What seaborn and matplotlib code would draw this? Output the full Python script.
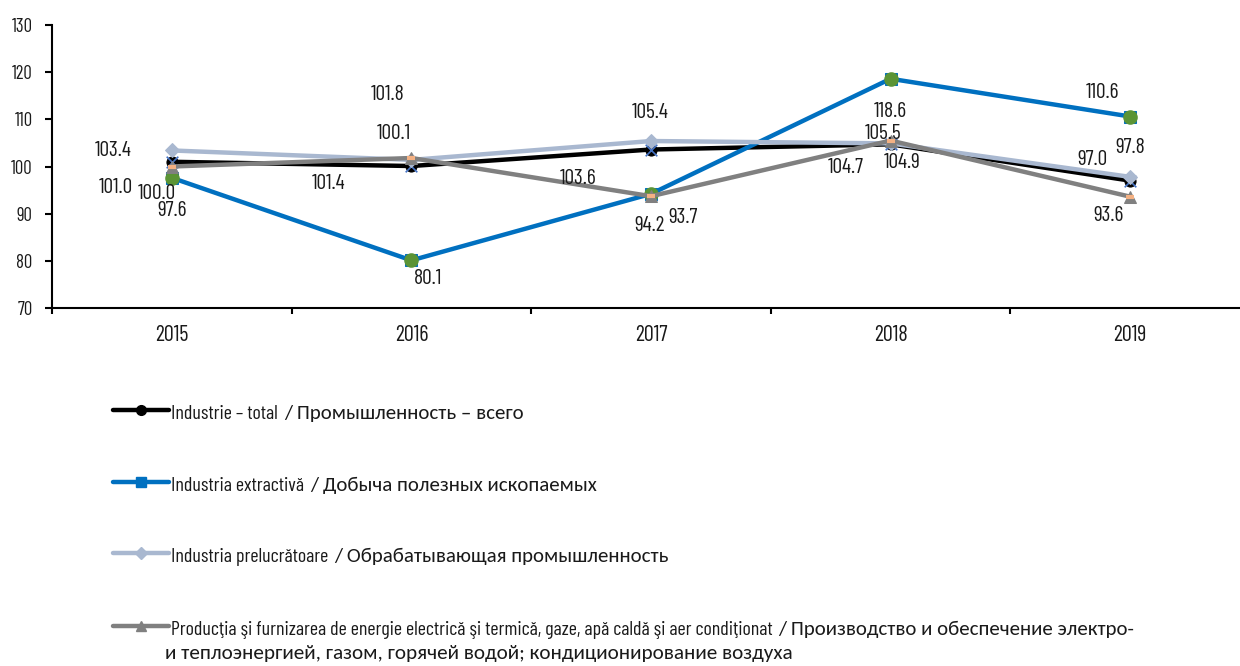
import numpy as np
import pandas as pd
import matplotlib
matplotlib.use("Agg")
import matplotlib.pyplot as plt
import seaborn as sns
from matplotlib import font_manager
from matplotlib.lines import Line2D
from matplotlib.transforms import IdentityTransform
from matplotlib.ticker import FixedLocator

# ---------------- data ----------------
years = ["2015", "2016", "2017", "2018", "2019"]
total = [101.0, 100.1, 103.6, 104.7, 97.0]
extractive = [97.6, 80.1, 94.2, 118.6, 110.6]
manufacturing = [103.4, 101.4, 105.4, 104.9, 97.8]
energy = [100.0, 101.8, 93.7, 105.5, 93.6]
y_ticks = [70, 80, 90, 100, 110, 120, 130]

names_ro = [
    "Industrie \u2013 total",
    "Industria extractivă",
    "Industria prelucrătoare",
    "Producţia şi furnizarea de energie electrică şi termică, gaze, apă caldă şi aer condiţionat",
]
names_ru = [
    "/ Промышленность \u2013 всего",
    "/ Добыча полезных ископаемых",
    "/ Обрабатывающая промышленность",
    "/ Производство и обеспечение электро-",
]
name_ru_cont = "и теплоэнергией, газом, горячей водой; кондиционирование воздуха"

# ---------------- styling ----------------
available = {f.name for f in font_manager.fontManager.ttflist}


def pick(cands):
    for c in cands:
        if c in available:
            return c
    return "DejaVu Sans"


NARROW = pick(["Barlow Condensed", "Saira Condensed", "Big Shoulders Text", "DejaVu Sans"])
CYR = pick(["Carlito", "Open Sans", "DejaVu Sans"])

sns.set_theme(style="white")
plt.rcParams["font.family"] = [NARROW, "DejaVu Sans"]

colors = ["#000000", "#0070C0", "#A9B8D0", "#808080"]
markers = ["o", "s", "D", "^"]
msizes = [8, 8, 7, 8]
series = [total, extractive, manufacturing, energy]

# label offsets in pixels (dx, dy) for each series/year
offsets = [
    [(-56, -26), (-18, 33), (-73, -29), (-45, -23), (-38, 21)],
    [(0, -33), (17, -18), (-1, -32), (0, -33), (-28, 24)],
    [(-59, 0), (-83, -24), (-1, 29), (12, -19), (0, 29)],
    [(-15, -27), (-24, 64), (32, -21), (-8, 7), (-22, -19)],
]

W, H = 1240, 666
fig = plt.figure(figsize=(W / 100, H / 100), dpi=100)
ax = fig.add_axes([52 / W, (H - 308) / H, (1250 - 52) / W, 283 / H])

x = np.arange(len(years))
for i, vals in enumerate(series):
    df = pd.DataFrame({"x": x, "v": vals})
    sns.lineplot(data=df, x="x", y="v", ax=ax, color=colors[i], lw=3.2,
                 marker=markers[i], markersize=msizes[i], markeredgecolor=colors[i],
                 zorder=2 + i)
    if i == 0:
        sns.scatterplot(data=df, x="x", y="v", ax=ax, marker="x", s=70,
                        color="#4472C4", linewidth=1.2, zorder=2.5)
    if i == 1:
        sns.scatterplot(data=df, x="x", y="v", ax=ax, marker="o", s=110,
                        color="#5B9435", linewidth=0, zorder=3.5)
    if i == 3:
        sns.scatterplot(data=df, x="x", y="v", ax=ax, marker="_", s=40,
                        color="#F4B183", linewidth=3, zorder=5.5)
    for j, v in enumerate(vals):
        dx, dy = offsets[i][j]
        ax.annotate(f"{v:.1f}", (x[j], v), xytext=(dx, dy), textcoords="offset pixels",
                    ha="center", va="center", fontsize=15.5, color="#1a1a1a",
                    family=[NARROW, "DejaVu Sans"], zorder=10)

ax.set_xlim(-0.5, len(years) - 0.5)
ax.set_ylim(y_ticks[0], y_ticks[-1])
ax.set_yticks(y_ticks)
ax.set_xticks(x)
ax.set_xticklabels(years)
ax.xaxis.set_minor_locator(FixedLocator(np.arange(-0.5, len(years), 1.0)))
ax.set_xlabel("")
ax.set_ylabel("")
for s in ["top", "right"]:
    ax.spines[s].set_visible(False)
for s in ["left", "bottom"]:
    ax.spines[s].set_color("black")
    ax.spines[s].set_linewidth(1.5)
ax.tick_params(axis="x", which="major", length=0, pad=12.5, labelsize=16, colors="#1a1a1a")
ax.tick_params(axis="x", which="minor", length=4, width=1.5, direction="out", color="black", bottom=True)
ax.tick_params(axis="y", which="major", length=5, width=1.5, direction="out", pad=9,
               labelsize=13.5, color="black", labelcolor="#1a1a1a", left=True)
ax.grid(False)

# ---------------- legend (manual, two fonts per entry) ----------------
fig.canvas.draw()
renderer = fig.canvas.get_renderer()
leg_y = [410, 482, 553, 626]
for i in range(4):
    yd = H - leg_y[i]
    ln = Line2D([113, 141, 169], [yd, yd, yd], transform=IdentityTransform(), color=colors[i],
                lw=3.2, marker=markers[i], markersize=msizes[i] - 1, markevery=[1],
                markeredgecolor=colors[i])
    fig.add_artist(ln)
    base = H - (leg_y[i] + 9)
    t1 = fig.text(171, base, names_ro[i], transform=IdentityTransform(), va="baseline",
                  ha="left", fontsize=14.4, family=[NARROW, "DejaVu Sans"], color="#1a1a1a")
    bb = t1.get_window_extent(renderer)
    fig.text(bb.x1 + 6, base, names_ru[i], transform=IdentityTransform(), va="baseline",
             ha="left", fontsize=15, family=[CYR, "DejaVu Sans"], color="#1a1a1a")
fig.text(165, H - 659, name_ru_cont, transform=IdentityTransform(), va="baseline",
         ha="left", fontsize=15.2, family=[CYR, "DejaVu Sans"], color="#1a1a1a")

fig.savefig("out.png", dpi=100)
